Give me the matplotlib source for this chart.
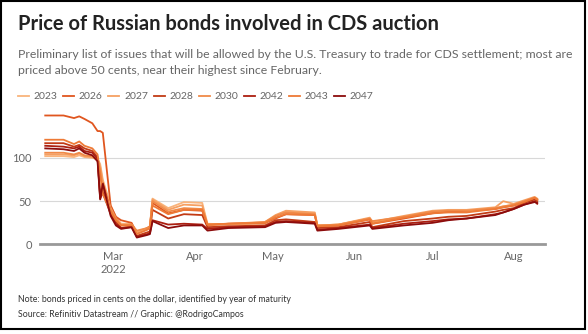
import matplotlib.pyplot as plt
from matplotlib.patches import Rectangle
import pandas as pd

dates = pd.to_datetime([
    "2022-02-03", "2022-02-10", "2022-02-14", "2022-02-16", "2022-02-18",
    "2022-02-21", "2022-02-23", "2022-02-24", "2022-02-25", "2022-02-28",
    "2022-03-02", "2022-03-04", "2022-03-08", "2022-03-10", "2022-03-14",
    "2022-03-15", "2022-03-16", "2022-03-22", "2022-03-28", "2022-04-04",
    "2022-04-06", "2022-04-14", "2022-04-28", "2022-05-02", "2022-05-06",
    "2022-05-17", "2022-05-18", "2022-05-26", "2022-06-07", "2022-06-08",
    "2022-06-20", "2022-07-01", "2022-07-07", "2022-07-14", "2022-07-25",
    "2022-07-28", "2022-08-01", "2022-08-05", "2022-08-09", "2022-08-10",
])

b2023 = [102, 102, 101, 103, 101, 100, 99, 93, 75, 45, 32, 24, 24, 15, 19, 21, 53, 42, 49, 48,
         24, 23, 24, 33, 38, 36, 22, 23, 30, 25, 32, 37, 38, 38, 42, 44, 46, 50, 54, 52]
b2026 = [149, 149, 146, 148, 145, 140, 131, 131, 129, 45, 32, 28, 25, 13, 19, 21, 48, 36, 40, 39,
         22, 24, 25, 30, 35, 34, 21, 22, 29, 24, 30, 36, 38, 39, 41, 43, 45, 49, 53, 51]
b2027 = [104, 104, 103, 105, 102, 101, 98, 90, 72, 42, 30, 23, 23, 14, 18, 20, 52, 40, 46, 45,
         23, 23, 26, 34, 39, 37, 22, 23, 31, 26, 33, 39, 40, 40, 43, 50, 47, 51, 55, 53]
b2028 = [117, 117, 113, 115, 111, 108, 101, 55, 71, 38, 27, 19, 21, 10, 14, 15, 40, 30, 35, 34,
         20, 21, 22, 28, 29, 26, 19, 20, 26, 20, 27, 30, 32, 33, 38, 40, 42, 48, 52, 50]
b2030 = [106, 106, 104, 106, 103, 102, 97, 85, 65, 40, 30, 22, 23, 16, 19, 21, 50, 38, 42, 41,
         23, 24, 26, 33, 37, 35, 22, 23, 30, 27, 32, 38, 39, 39, 42, 44, 46, 50, 54, 52]
b2042 = [114, 113, 111, 113, 108, 106, 99, 53, 60, 35, 24, 19, 20, 9, 12, 13, 28, 23, 24, 23,
         18, 20, 21, 26, 27, 25, 17, 19, 23, 19, 24, 27, 29, 30, 35, 37, 41, 46, 50, 47]
b2043 = [121, 121, 116, 119, 114, 111, 104, 80, 58, 38, 28, 22, 22, 12, 17, 19, 45, 35, 40, 40,
         23, 24, 25, 31, 35, 34, 21, 22, 29, 24, 31, 36, 37, 37, 41, 43, 45, 49, 54, 52]
b2047 = [111, 110, 108, 111, 106, 103, 96, 52, 70, 33, 22, 18, 20, 8, 11, 12, 27, 19, 22, 22,
         16, 19, 20, 25, 26, 24, 16, 18, 22, 18, 22, 25, 28, 30, 34, 37, 41, 46, 49, 48]

years = ["2023", "2026", "2027", "2028", "2030", "2042", "2043", "2047"]
series = [b2023, b2026, b2027, b2028, b2030, b2042, b2043, b2047]
colors = ["#f9b47c", "#e0561f", "#f6a062", "#c23b15", "#f08a48", "#ac1f10", "#ee7a36", "#8c0c0c"]

plt.rcParams['font.family'] = ['Lato', 'DejaVu Sans']

fig = plt.figure(figsize=(5.88, 3.34), dpi=100)
ax = fig.add_axes([0.068, 0.268, 0.859, 0.394])

for yr, vals, c in zip(years, series, colors):
    ax.plot(dates, vals, color=c, lw=1.3, label=yr)

ax.set_ylim(0, 152)
ax.set_xlim(pd.Timestamp("2022-02-01"), pd.Timestamp("2022-08-13"))
ax.set_yticks([0, 50, 100])
ax.grid(axis='y', color='#d8d8d8', lw=0.8)
ax.set_axisbelow(True)

months = pd.to_datetime(["2022-03-01", "2022-04-01", "2022-05-01", "2022-06-01",
                         "2022-07-01", "2022-08-01"])
ax.set_xticks(months)
ax.set_xticklabels(["Mar\n2022", "Apr", "May", "Jun", "Jul", "Aug"])
ax.tick_params(length=0, labelsize=8, colors='#666666', pad=5)
ax.tick_params(axis='y', pad=6)

for s in ['top', 'right', 'left']:
    ax.spines[s].set_visible(False)
ax.spines['bottom'].set_color('#999999')
ax.spines['bottom'].set_linewidth(2)

ax.legend(loc='upper left', bbox_to_anchor=(18 / 588, 1 - 92 / 334), bbox_transform=fig.transFigure,
          ncol=8, frameon=False, fontsize=7.5, handlelength=1.05, handletextpad=0.45,
          columnspacing=0.55, labelcolor='#666666', borderaxespad=0, borderpad=0)

fig.text(18 / 588, 1 - 30 / 334, "Price of Russian bonds involved in CDS auction",
         fontsize=14.5, fontweight='bold', color='#222222')
fig.text(18 / 588, 1 - 58 / 334,
         "Preliminary list of issues that will be allowed by the U.S. Treasury to trade for CDS settlement; most are",
         fontsize=8.85, color='#666666')
fig.text(18 / 588, 1 - 74 / 334, "priced above 50 cents, near their highest since February.",
         fontsize=8.85, color='#666666')
fig.text(18 / 588, 1 - 302 / 334,
         "Note: bonds priced in cents on the dollar, identified by year of maturity",
         fontsize=6.3, color='#333333')
fig.text(18 / 588, 1 - 317 / 334, "Source: Refinitiv Datastream // Graphic: @RodrigoCampos",
         fontsize=6.3, color='#333333')

fig.patches.append(Rectangle((1 / 588, 1 - 329 / 334), 584 / 588, 328 / 334,
                             transform=fig.transFigure, fill=False, ec='black', lw=1.5))

fig.savefig("out.png", dpi=100)
